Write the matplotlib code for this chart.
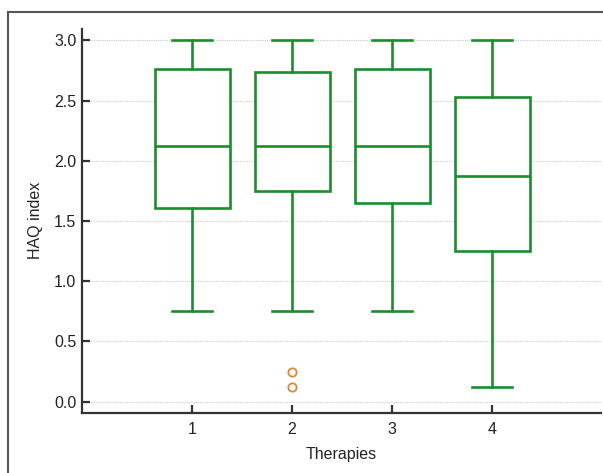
import matplotlib
matplotlib.use("Agg")
import matplotlib.pyplot as plt
from matplotlib.patches import Rectangle

plt.rcParams['font.family'] = ['Liberation Sans', 'DejaVu Sans']

therapies = [1, 2, 3, 4]
whisker_low = [0.75, 0.75, 0.75, 0.125]
q1 = [1.61, 1.75, 1.65, 1.25]
medians = [2.125, 2.125, 2.125, 1.87]
q3 = [2.76, 2.74, 2.76, 2.53]
whisker_high = [3.0, 3.0, 3.0, 3.0]
outliers = [[], [0.25, 0.125], [], []]
y_ticks = [0.0, 0.5, 1.0, 1.5, 2.0, 2.5, 3.0]

green = "#1e8c2e"
orange = "#d9893a"

stats = []
for i, t in enumerate(therapies):
    stats.append({
        "label": str(t),
        "whislo": whisker_low[i],
        "q1": q1[i],
        "med": medians[i],
        "q3": q3[i],
        "whishi": whisker_high[i],
        "fliers": outliers[i],
    })

fig = plt.figure(figsize=(6.03, 4.73), dpi=100)

# outer frame of the original panel
fig.patches.append(Rectangle((8 / 603, -0.1), 1.2, 1 - 12 / 473 + 0.1,
                             transform=fig.transFigure, fill=False,
                             edgecolor="#555555", linewidth=1.5))

ax = fig.add_axes([82 / 603, 1 - 412.7 / 473, 519 / 603, (412.7 - 29) / 473])

lw = 1.9
ax.bxp(stats, positions=therapies, widths=0.75, patch_artist=True,
       boxprops=dict(facecolor="white", edgecolor=green, linewidth=lw),
       medianprops=dict(color=green, linewidth=lw),
       whiskerprops=dict(color=green, linewidth=lw),
       capprops=dict(color=green, linewidth=lw),
       flierprops=dict(marker="o", markerfacecolor="none", markeredgecolor=orange,
                       markersize=6, markeredgewidth=1.3),
       capwidths=0.4, zorder=3)

ax.set_xlim(-0.1, 5.09)
ax.set_ylim(-0.092, 3.095)
ax.set_yticks(y_ticks)
ax.set_yticklabels([f"{v:.1f}" for v in y_ticks])
ax.set_xticks(therapies)
ax.set_xticklabels([str(t) for t in therapies])

ax.yaxis.grid(True, linestyle=(0, (1, 1)), color="#c8c8c8", linewidth=0.8, zorder=0)
ax.set_axisbelow(True)

for s in ["top", "right"]:
    ax.spines[s].set_visible(False)
for s in ["left", "bottom"]:
    ax.spines[s].set_linewidth(1.6)
    ax.spines[s].set_color("#333333")

ax.tick_params(direction="in", length=6, width=1.6, color="#333333",
               labelsize=11.5, labelcolor="#222222")
ax.tick_params(axis="y", pad=4)
ax.tick_params(axis="x", pad=7)

ax.set_xlabel("Therapies", fontsize=11.5, color="#222222", labelpad=7)
ax.set_ylabel("HAQ index", fontsize=11.5, color="#222222", labelpad=8)

fig.savefig("out.png", dpi=100)
